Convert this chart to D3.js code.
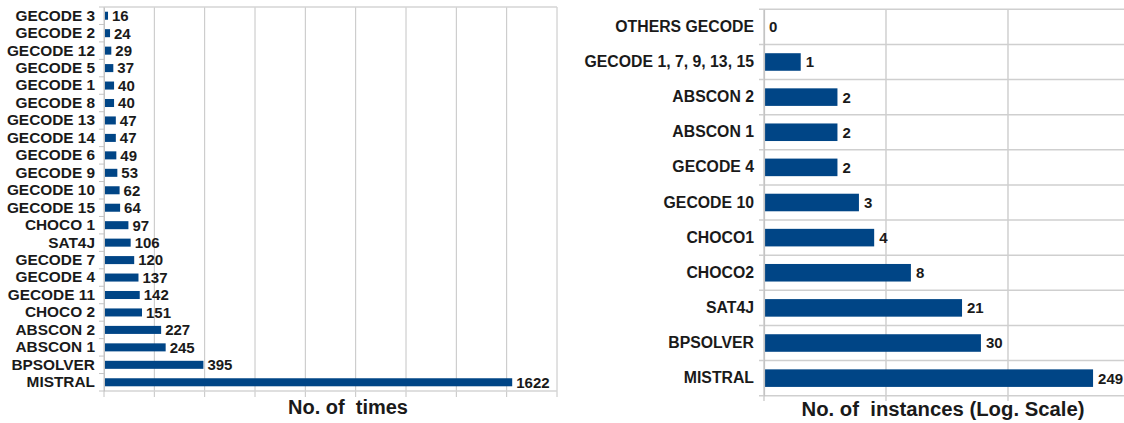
<!DOCTYPE html>
<html>
<head>
<meta charset="utf-8">
<script src="https://cdn.jsdelivr.net/npm/d3@7"></script>
<style>
  body { margin: 0; background: #fff; }
  svg { display: block; font-family: "Liberation Sans", Arial, sans-serif; font-weight: bold; }
</style>
</head>
<body>
<div id="chart-area"></div>
<script>
// left chart: number of times
var leftCats = ['GECODE 3', 'GECODE 2', 'GECODE 12', 'GECODE 5', 'GECODE 1', 'GECODE 8',
  'GECODE 13', 'GECODE 14', 'GECODE 6', 'GECODE 9', 'GECODE 10', 'GECODE 15', 'CHOCO 1',
  'SAT4J', 'GECODE 7', 'GECODE 4', 'GECODE 11', 'CHOCO 2', 'ABSCON 2', 'ABSCON 1',
  'BPSOLVER', 'MISTRAL'];
var leftVals = [16, 24, 29, 37, 40, 40, 47, 47, 49, 53, 62, 64, 97, 106, 120, 137, 142, 151,
  227, 245, 395, 1622];
var leftTicks = [0, 200, 400, 600, 800, 1000, 1200, 1400, 1600, 1800];

// right chart: number of instances, log scale
var rightCats = ['OTHERS GECODE', 'GECODE 1, 7, 9, 13, 15', 'ABSCON 2', 'ABSCON 1', 'GECODE 4',
  'GECODE 10', 'CHOCO1', 'CHOCO2', 'SAT4J', 'BPSOLVER', 'MISTRAL'];
var rightVals = [0, 1, 2, 2, 2, 3, 4, 8, 21, 30, 249];
var rightTicks = [0.5, 5, 50, 500];

var blue = '#004586';
var grid = '#c4c4c4';
var ink = '#1a1a1a';

var svg = d3.select('#chart-area').append('svg')
  .attr('width', 1124)
  .attr('height', 423);

// ---------- left ----------
var lx = d3.scaleLinear().domain([0, 1800]).range([104, 557]);
var ly = d3.scaleBand().domain(leftCats).range([7, 391]);

var left = svg.append('g');

left.selectAll('.vgrid')
  .data(leftTicks)
  .enter().append('line')
    .attr('x1', function(d) { return lx(d); })
    .attr('x2', function(d) { return lx(d); })
    .attr('y1', 7)
    .attr('y2', 397)
    .attr('stroke', grid)
    .attr('stroke-width', 1);

left.append('line')
  .attr('x1', 104).attr('x2', 557).attr('y1', 7).attr('y2', 7)
  .attr('stroke', '#d4d4d4').attr('stroke-width', 1.5);
left.append('line')
  .attr('x1', 104).attr('x2', 557).attr('y1', 391).attr('y2', 391)
  .attr('stroke', '#d4d4d4').attr('stroke-width', 1.5);

// row ticks at band edges
left.selectAll('.rtick')
  .data(leftCats.concat(['end']))
  .enter().append('line')
    .attr('x1', 99).attr('x2', 104)
    .attr('y1', function(d, i) { return 7 + i * ly.step(); })
    .attr('y2', function(d, i) { return 7 + i * ly.step(); })
    .attr('stroke', grid);

left.selectAll('rect')
  .data(leftVals)
  .enter().append('rect')
    .attr('x', lx(0))
    .attr('y', function(d, i) { return ly(leftCats[i]) + ly.bandwidth() * 0.27; })
    .attr('width', function(d) { return lx(d) - lx(0); })
    .attr('height', ly.bandwidth() * 0.46)
    .attr('fill', blue);

left.selectAll('.val')
  .data(leftVals)
  .enter().append('text')
    .attr('x', function(d) { return lx(d) + 4; })
    .attr('y', function(d, i) { return ly(leftCats[i]) + ly.bandwidth() / 2; })
    .attr('dy', '0.36em')
    .attr('font-size', 15)
    .attr('fill', ink)
    .text(function(d) { return d; });

var lAxis = left.append('g')
  .attr('transform', 'translate(104,0)')
  .call(d3.axisLeft(ly).tickSize(0).tickPadding(9));
lAxis.select('.domain').attr('stroke', grid);
lAxis.selectAll('text')
  .attr('font-size', 15.4)
  .attr('font-family', '"Liberation Sans", Arial, sans-serif')
  .attr('font-weight', 'bold')
  .attr('fill', ink);

left.append('text')
  .attr('x', 348)
  .attr('y', 414)
  .attr('text-anchor', 'middle')
  .attr('font-size', 20)
  .attr('fill', ink)
  .attr('xml:space', 'preserve')
  .text('No. of  times');

// ---------- right ----------
var rx = d3.scaleLog().domain([0.5, 500]).range([764, 1130]);
var ry = d3.scaleBand().domain(rightCats).range([9.3, 395.7]);

var right = svg.append('g');

right.selectAll('.vgrid')
  .data(rightTicks)
  .enter().append('line')
    .attr('x1', function(d) { return rx(d); })
    .attr('x2', function(d) { return rx(d); })
    .attr('y1', 9.3)
    .attr('y2', 401)
    .attr('stroke', grid)
    .attr('stroke-width', 1.2);

right.selectAll('.hgrid')
  .data(rightCats.concat(['end']))
  .enter().append('line')
    .attr('x1', 759).attr('x2', 1124)
    .attr('y1', function(d, i) { return 9.3 + i * ry.step(); })
    .attr('y2', function(d, i) { return 9.3 + i * ry.step(); })
    .attr('stroke', '#cfcfcf')
    .attr('stroke-width', 1.5);

right.selectAll('rect')
  .data(rightVals)
  .enter().append('rect')
    .attr('x', rx(0.5))
    .attr('y', function(d, i) { return ry(rightCats[i]) + ry.bandwidth() * 0.25; })
    .attr('width', function(d) { return d > 0 ? rx(d) - rx(0.5) : 0; })
    .attr('height', ry.bandwidth() * 0.5)
    .attr('fill', blue);

right.selectAll('.val')
  .data(rightVals)
  .enter().append('text')
    .attr('x', function(d) { return (d > 0 ? rx(d) : rx(0.5)) + 5; })
    .attr('y', function(d, i) { return ry(rightCats[i]) + ry.bandwidth() / 2; })
    .attr('dy', '0.36em')
    .attr('font-size', 15)
    .attr('fill', ink)
    .text(function(d) { return d; });

var rAxis = right.append('g')
  .attr('transform', 'translate(764,0)')
  .call(d3.axisLeft(ry).tickSize(0).tickPadding(10));
rAxis.select('.domain').attr('stroke', grid).attr('stroke-width', 1.2);
rAxis.selectAll('text')
  .attr('font-size', 15.8)
  .attr('font-family', '"Liberation Sans", Arial, sans-serif')
  .attr('font-weight', 'bold')
  .attr('fill', ink);

right.append('text')
  .attr('x', 943)
  .attr('y', 416)
  .attr('text-anchor', 'middle')
  .attr('font-size', 20.3)
  .attr('fill', ink)
  .attr('xml:space', 'preserve')
  .text('No. of  instances (Log. Scale)');
</script>
</body>
</html>
